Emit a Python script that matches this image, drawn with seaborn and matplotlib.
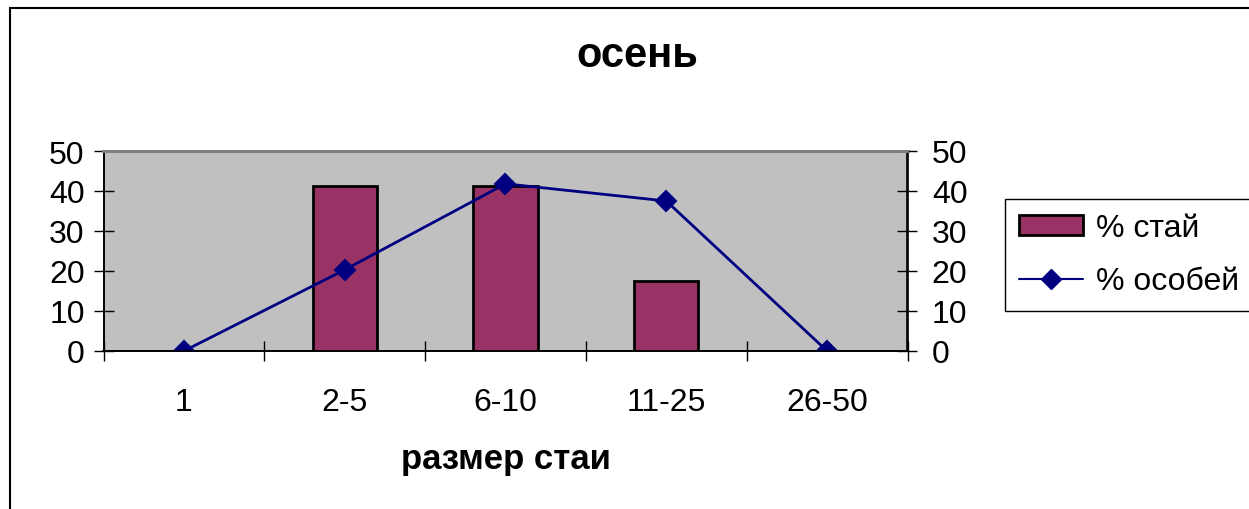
import matplotlib
matplotlib.use("Agg")
import matplotlib.pyplot as plt
import seaborn as sns
import numpy as np
from matplotlib.patches import Rectangle, Patch
from matplotlib.lines import Line2D

# datos
categorias = ["1", "2-5", "6-10", "11-25", "26-50"]
pct_stai = [0, 41.2, 41.2, 17.6, 0]
pct_osobei = [0, 20.3, 41.8, 37.5, 0]
ticks_y = [0, 10, 20, 30, 40, 50]

color_barra = "#993366"
color_linea = "#000080"
fondo = "#C0C0C0"

sns.set_theme(style="white")
plt.rcParams["font.family"] = ["Liberation Sans", "DejaVu Sans"]
for k in ("text.color", "axes.labelcolor", "xtick.color", "ytick.color"):
    plt.rcParams[k] = "black"

fig = plt.figure(figsize=(12.49, 5.10), dpi=100)
ax = fig.add_axes([103.5 / 1249, 1 - 352 / 510, 804 / 1249, 200 / 510])
ax.set_facecolor(fondo)

sns.barplot(x=categorias, y=pct_stai, ax=ax, color=color_barra, width=0.4,
            edgecolor="black", linewidth=2, saturation=1, zorder=2)
ax.set_ylim(0, 50)
ax.set_xlim(-0.5, 4.5)
ax.set_yticks(ticks_y)
ax.tick_params(axis="y", direction="inout", length=15, width=1, color="black",
               labelsize=23, pad=6, left=True)
ax.set_xticks(np.arange(-0.5, 5, 1), minor=True)
ax.tick_params(axis="x", which="minor", direction="inout", length=15, width=1,
               color="black", bottom=True)
ax.tick_params(axis="x", which="major", length=0, labelsize=23, pad=26)
ax.set_xlabel("размер стаи", fontsize=25, fontweight="bold", labelpad=18)
ax.set_ylabel("")

ax2 = ax.twinx()
sns.pointplot(x=categorias, y=pct_osobei, ax=ax2, color=color_linea,
              markers="D", markersize=10, linewidth=2)
ax2.set_ylim(0, 50)
ax2.set_xlim(-0.5, 4.5)
ax2.set_yticks(ticks_y)
ax2.tick_params(axis="y", direction="inout", length=15, width=1, color="black",
                labelsize=23, pad=10, right=True)
ax2.set_ylabel("")
for a in (ax, ax2):
    for s in a.spines.values():
        s.set_color("black")
        s.set_linewidth(1.2)
    a.spines["top"].set_color("#808080")
    a.spines["top"].set_linewidth(2)

fig.text(637 / 1249, 1 - 56 / 510, "осень", fontsize=30, fontweight="bold",
         ha="center", va="center")

# marco exterior
fig.add_artist(Rectangle((10 / 1249, -0.1), 1.2, 1.1 - 9 / 510,
                         transform=fig.transFigure, fill=False,
                         edgecolor="black", linewidth=1.5))

handles = [Patch(facecolor=color_barra, edgecolor="black", linewidth=2),
           Line2D([0], [0], color=color_linea, marker="D", markersize=10,
                  linewidth=1.5)]
fig.legend(handles, ["% стай", "% особей"], loc="upper left",
           bbox_to_anchor=(1005 / 1249, 1 - 200 / 510), fontsize=23,
           frameon=True, fancybox=False, edgecolor="black", framealpha=1,
           borderpad=0.45, handlelength=2.0, handleheight=0.6,
           labelspacing=0.72, handletextpad=0.4, borderaxespad=0)

fig.savefig("out.png", dpi=100)
